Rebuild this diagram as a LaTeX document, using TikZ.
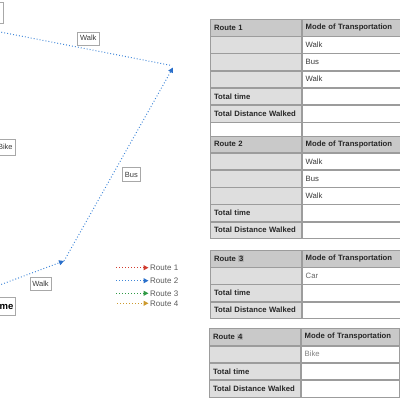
\documentclass[tikz,border=0pt]{standalone}
\usepackage{fontspec}
\setmainfont{Liberation Sans}
\usetikzlibrary{positioning,arrows.meta}
\definecolor{routered}{HTML}{D13B2E}
\definecolor{routeblue}{HTML}{3F86D8}
\definecolor{tipblue}{HTML}{2A6FCA}
\definecolor{routegreen}{HTML}{2F9A45}
\definecolor{routegold}{HTML}{CC9A2E}
\definecolor{headgray}{HTML}{C9C9C9}
\definecolor{sidegray}{HTML}{DEDEDE}
\definecolor{gridgray}{HTML}{9C9C9C}
\definecolor{boxgray}{HTML}{A8A8A8}
\definecolor{inkgray}{HTML}{3A3A3A}
\definecolor{markgray}{HTML}{B4B4B4}
\newcommand{\hlnum}[1]{{\setlength{\fboxsep}{0.6pt}\colorbox{markgray}{#1}}}

\begin{document}
\begin{tikzpicture}[x=1pt,y=-1pt,
      cell/.style={draw=gridgray,line width=0.6pt,inner xsep=3.8pt,inner ysep=0pt,
                   minimum height=16.6pt,align=left,text=inkgray,
                   font=\fontsize{7.7}{9}\selectfont},
      headA/.style={cell,fill=headgray,text width=83.4pt,font=\bfseries\fontsize{7.7}{9}\selectfont,text=black!85},
      headB/.style={cell,fill=headgray,text width=90.4pt,font=\bfseries\fontsize{7.7}{9}\selectfont,text=black!85},
      sideA/.style={cell,fill=sidegray,text width=83.4pt,font=\bfseries\fontsize{7.7}{9}\selectfont,text=black!85},
      cellB/.style={cell,fill=white,text width=90.4pt},
      blankA/.style={cell,fill=white,text width=83.4pt},
      lbl/.style={draw=boxgray,fill=white,line width=0.6pt,inner xsep=2.4pt,inner ysep=0pt,
                  minimum height=13pt,text=inkgray,font=\fontsize{7.5}{9}\selectfont},
      legtxt/.style={inner sep=1.5pt,text=black!65,font=\fontsize{8}{9}\selectfont},
      rte/.style={line width=1pt,dash pattern=on 0.9pt off 2.1pt},
      rte1/.style={rte,routered,-{Triangle[length=5pt,width=5pt]}},
      rte2/.style={rte,routeblue,-{Triangle[length=5pt,width=5pt,color=tipblue]}},
      rte3/.style={rte,routegreen,-{Triangle[length=5pt,width=5pt]}},
      rte4/.style={rte,routegold,-{Triangle[length=5pt,width=5pt]}}]
    \useasboundingbox (0,0) rectangle (400,400);
    \clip (0,0) rectangle (400,400);

    % map of route 2
    \coordinate (homeexit) at (-10,288.6);
    \coordinate (stopA) at (64,261);
    \coordinate (stopB) at (173,67.5);
    \coordinate (away) at (-12,29.6);
    \node[lbl,anchor=east,minimum width=20pt,minimum height=21pt] (orig) at (3.3,12.4) {};
    \node[lbl,anchor=east,minimum height=15.5pt] (bike) at (15.3,147.3) {Bike};
    \node[lbl,anchor=east,minimum height=18pt,font=\bfseries\fontsize{9.5}{11}\selectfont,text=black] (home) at (16,306.5) {Home};
    \node[lbl] (walk1) at (40.5,283.7) {Walk};
    \node[lbl,minimum height=14pt] (bus) at (131.3,174.5) {Bus};
    \node[lbl] (walk2) at (88.3,38.3) {Walk};
    \draw[rte2] (homeexit) -- (stopA);
    \draw[rte2] (stopA) -- (stopB);
    \draw[rte,routeblue] (170,65.2) -- (away);

    % legend
    \node[legtxt,anchor=west] (key1) at (148.5,267.7) {Route 1};
    \node[legtxt,anchor=west] (key2) at (148.5,280.7) {Route 2};
    \node[legtxt,anchor=west] (key3) at (148.5,293.3) {Route 3};
    \node[legtxt,anchor=west] (key4) at (148.5,303.3) {Route 4};
    \coordinate (key1s) at (116,267.7);
    \coordinate (key2s) at (116,280.7);
    \coordinate (key3s) at (116,293.3);
    \coordinate (key4s) at (117.3,303.3);
    \draw[rte1] (key1s) -- (key1);
    \draw[rte2] (key2s) -- (key2);
    \draw[rte3] (key3s) -- (key3);
    \draw[rte4] (key4s) -- (key4);

    % table route 1
    \node[headA,anchor=north west] (t1h) at (210,19) {Route 1};
    \node[headB,right=0pt of t1h] (t1m) {Mode of Transportation};
    \node[sideA,below=0pt of t1h] (t1a) {};
    \node[cellB,right=0pt of t1a] (t1b) {Walk};
    \node[sideA,below=0pt of t1a] (t1c) {};
    \node[cellB,right=0pt of t1c] (t1d) {Bus};
    \node[sideA,below=0pt of t1c] (t1e) {};
    \node[cellB,right=0pt of t1e] (t1f) {Walk};
    \node[sideA,below=0pt of t1e] (t1t) {Total time};
    \node[cellB,right=0pt of t1t] (t1tv) {};
    \node[sideA,below=0pt of t1t] (t1w) {Total Distance Walked};
    \node[cellB,right=0pt of t1w] (t1wv) {};
    \node[blankA,below=0pt of t1w] (t1x) {};
    \node[cellB,right=0pt of t1x] (t1xv) {};

    % table route 2
    \node[headA,anchor=north west] (t2h) at (210,135.5) {Route 2};
    \node[headB,right=0pt of t2h] (t2m) {Mode of Transportation};
    \node[sideA,below=0pt of t2h] (t2a) {};
    \node[cellB,right=0pt of t2a] (t2b) {Walk};
    \node[sideA,below=0pt of t2a] (t2c) {};
    \node[cellB,right=0pt of t2c] (t2d) {Bus};
    \node[sideA,below=0pt of t2c] (t2e) {};
    \node[cellB,right=0pt of t2e] (t2f) {Walk};
    \node[sideA,below=0pt of t2e] (t2t) {Total time};
    \node[cellB,right=0pt of t2t] (t2tv) {};
    \node[sideA,below=0pt of t2t] (t2w) {Total Distance Walked};
    \node[cellB,right=0pt of t2w] (t2wv) {};

    % table route 3
    \node[headA,anchor=north west] (t3h) at (210,250) {Route \hlnum{3}};
    \node[headB,right=0pt of t3h] (t3m) {Mode of Transportation};
    \node[sideA,below=0pt of t3h] (t3a) {};
    \node[cellB,right=0pt of t3a,text=black!60] (t3b) {Car};
    \node[sideA,below=0pt of t3a] (t3t) {Total time};
    \node[cellB,right=0pt of t3t] (t3tv) {};
    \node[sideA,below=0pt of t3t] (t3w) {Total Distance Walked};
    \node[cellB,right=0pt of t3w] (t3wv) {};

    % table route 4
    \node[headA,anchor=north west] (t4h) at (209,328.3) {Route \hlnum{4}};
    \node[headB,right=0pt of t4h] (t4m) {Mode of Transportation};
    \node[headB,right=0pt of t4m] (t4n) {};
    \node[sideA,below=0pt of t4h] (t4a) {};
    \node[cellB,right=0pt of t4a,text=black!50] (t4b) {Bike};
    \node[cellB,right=0pt of t4b] (t4c) {};
    \node[sideA,below=0pt of t4a] (t4t) {Total time};
    \node[cellB,right=0pt of t4t] (t4tv) {};
    \node[cellB,right=0pt of t4tv] (t4tx) {};
    \node[sideA,below=0pt of t4t] (t4w) {Total Distance Walked};
    \node[cellB,right=0pt of t4w] (t4wv) {};
    \node[cellB,right=0pt of t4wv] (t4wx) {};
  \end{tikzpicture}
\end{document}
